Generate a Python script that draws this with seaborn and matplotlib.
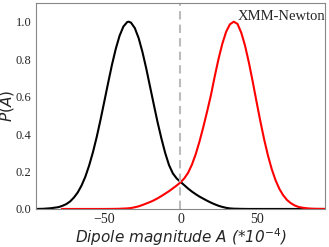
import matplotlib
matplotlib.use("Agg")
import matplotlib.pyplot as plt
import seaborn as sns
import pandas as pd

# Black curve
black_x = [-95, -90, -85, -80, -77.5, -75, -72.5, -70, -67.5, -65, -62.5, -60, -57.5, -55,
           -52.5, -50, -47.5, -45, -42.5, -40, -37.5, -35, -34, -32.5, -30, -27.5, -25,
           -22.5, -20, -17.5, -15, -12.5, -10, -7.5, -5, -2.5, 0, 2.5, 5, 7.5, 10, 12.5,
           15, 17.5, 20, 22.5, 25, 27.5, 30, 32.5, 35, 40, 45, 50, 60, 70, 80, 95]
black_y = [0.0, 0.001, 0.004, 0.010, 0.017, 0.026, 0.040, 0.061, 0.088, 0.125, 0.172, 0.232,
           0.303, 0.385, 0.477, 0.575, 0.674, 0.770, 0.855, 0.925, 0.974, 0.998, 1.0, 0.995,
           0.966, 0.913, 0.839, 0.751, 0.654, 0.557, 0.462, 0.376, 0.298, 0.234, 0.190,
           0.163, 0.145, 0.127, 0.109, 0.093, 0.079, 0.066, 0.055, 0.044, 0.034, 0.025,
           0.017, 0.011, 0.006, 0.003, 0.0015, 0.0005, 0.0, 0.0, 0.0, 0.0, 0.0, 0.0]

# Red curve
red_x = [-78, -70, -60, -50, -45, -40, -35, -32.5, -30, -27.5, -25, -22.5, -20, -17.5, -15,
         -12.5, -10, -7.5, -5, -2.5, 0, 2.5, 5, 7.5, 10, 12.5, 15, 17.5, 20, 22.5, 25,
         27.5, 30, 32.5, 35, 37.5, 40, 42.5, 45, 47.5, 50, 52.5, 55, 57.5, 60, 62.5, 65,
         67.5, 70, 72.5, 75, 77.5, 80, 82.5, 85, 87.5, 90, 95]
red_y = [0.0, 0.0, 0.0, 0.0, 0.0003, 0.001, 0.003, 0.005, 0.009, 0.014, 0.021, 0.029, 0.037,
         0.046, 0.057, 0.069, 0.082, 0.095, 0.110, 0.125, 0.142, 0.163, 0.193, 0.236, 0.292,
         0.360, 0.437, 0.520, 0.607, 0.707, 0.801, 0.882, 0.946, 0.986, 1.0, 0.988, 0.940,
         0.870, 0.780, 0.679, 0.572, 0.468, 0.371, 0.285, 0.212, 0.153, 0.107, 0.073, 0.048,
         0.031, 0.019, 0.011, 0.007, 0.004, 0.002, 0.001, 0.0005, 0.0]

x_ticks = [-50, 0, 50]
y_ticks = [0.0, 0.2, 0.4, 0.6, 0.8, 1.0]
label_text = "XMM-Newton"

sns.set_style("white")

fig = plt.figure(figsize=(3.29, 2.47), dpi=100)
ax = fig.add_axes([0.109, 0.154, 0.879, 0.834])

df_b = pd.DataFrame({"x": black_x, "y": black_y})
df_r = pd.DataFrame({"x": red_x, "y": red_y})
sns.lineplot(data=df_b, x="x", y="y", ax=ax, color="black", linewidth=1.5, sort=False)
sns.lineplot(data=df_r, x="x", y="y", ax=ax, color="red", linewidth=1.5, sort=False)
ax.axvline(0, color="#bbbbbb", linestyle="--", linewidth=1.5, dashes=(4, 2.5))

ax.set_xlim(-95, 95)
ax.set_ylim(0, 1.1)
ax.set_xticks(x_ticks)
ax.set_yticks(y_ticks)
ax.set_xticklabels(["\u221250", "0", "50"], family="Liberation Serif", fontsize=10)
ax.set_yticklabels([f"{v:.1f}" for v in y_ticks], family="Liberation Serif", fontsize=9)
ax.tick_params(axis="both", length=2, width=0.6, color="#888888", pad=1, direction="out")
for s in ax.spines.values():
    s.set_color("#888888")
    s.set_linewidth(0.8)

ax.set_xlabel(r"Dipole magnitude A (*10$^{-4}$)", fontsize=11, fontstyle="italic",
              family="DejaVu Sans", labelpad=0)
ax.set_ylabel(r"$P(A)$", fontsize=11, family="DejaVu Sans")
ax.yaxis.set_label_coords(-0.067, 0.5)
ax.text(1.0, 0.935, label_text, transform=ax.transAxes, ha="right", va="center",
        family="Liberation Serif", fontsize=10.5)

fig.savefig("out.png", dpi=100)
